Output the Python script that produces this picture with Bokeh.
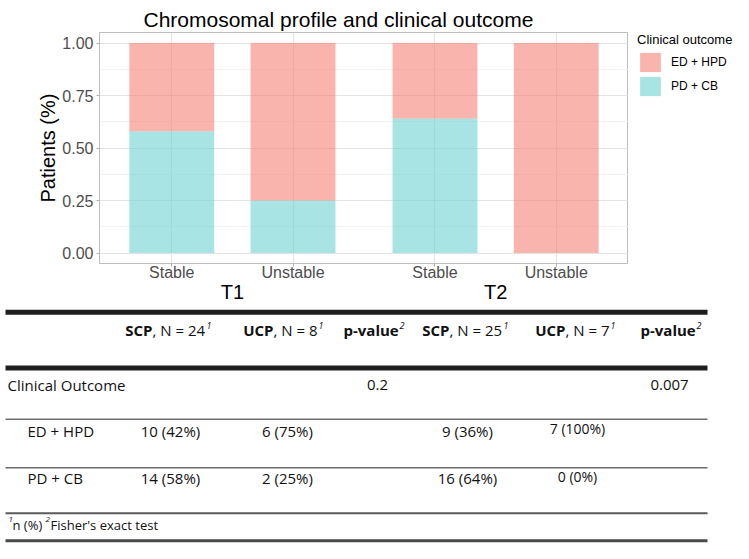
from bokeh.plotting import figure
from bokeh.models import (ColumnDataSource, FactorRange, FixedTicker, NumeralTickFormatter,
                          Legend, LegendItem, Range1d)
from bokeh.layouts import column, row
from bokeh.embed import file_html
from bokeh.resources import INLINE
from bokeh.core.properties import value

# ---------------- data ----------------
timepoints = ["T1", "T1", "T2", "T2"]
profiles = ["Stable", "Unstable", "Stable", "Unstable"]
share_pd_cb = [0.58, 0.25, 0.64, 0.0]
share_ed_hpd = [0.42, 0.75, 0.36, 1.0]
outcome_labels = ["ED + HPD", "PD + CB"]
outcome_colors = ["#F78278", "#6ED2D2"]
y_ticks = [0.0, 0.25, 0.5, 0.75, 1.0]

col_codes = ["SCP", "UCP", "SCP", "UCP"]
col_n = [24, 8, 25, 7]
n_ed_hpd = [10, 6, 9, 7]
pct_ed_hpd = [42, 75, 36, 100]
n_pd_cb = [14, 2, 16, 0]
pct_pd_cb = [58, 25, 64, 0]
p_values = ["0.2", "0.007"]
variable_label = "Clinical Outcome"

# ---------------- chart ----------------
CF = "Liberation Sans"
x_factors = list(zip(timepoints, profiles))
src = ColumnDataSource(dict(x=x_factors, pd=share_pd_cb, ed=share_ed_hpd))
xr = FactorRange(*x_factors, group_padding=0.171, range_padding=0.096,
                 range_padding_units="absolute")

p = figure(width=628, height=306, x_range=xr, y_range=Range1d(-0.05, 1.05),
           output_backend="svg", toolbar_location=None,
           min_border_left=99, min_border_right=0, min_border_top=32, min_border_bottom=43,
           title="Chromosomal profile and clinical outcome")
p.frame_align = False
p.title.align = "left"
p.title.offset = 44
p.title.standoff = 4
p.title.text_font = CF
p.title.text_font_size = "21px"
p.title.text_font_style = "normal"
p.title.text_color = "#000000"

rs = p.vbar_stack(["pd", "ed"], x="x", width=0.7, source=src,
                  fill_color=[outcome_colors[1], outcome_colors[0]], fill_alpha=0.6, line_color=None)

p.outline_line_color = "#bdbdbd"
p.outline_line_width = 1
p.background_fill_color = "white"
p.border_fill_color = "white"

p.xgrid.grid_line_color = "#e3e3e3"
p.ygrid.grid_line_color = "#e3e3e3"
p.ygrid.minor_grid_line_color = "#f2f2f2"

minor = [(a + b) / 2 for a, b in zip(y_ticks, y_ticks[1:])]
p.yaxis.ticker = FixedTicker(ticks=y_ticks, minor_ticks=minor)
p.yaxis.formatter = NumeralTickFormatter(format="0.00")
p.yaxis.axis_label = "Patients (%)"
p.yaxis.axis_label_text_font = CF
p.yaxis.axis_label_text_font_size = "20px"
p.yaxis.axis_label_text_font_style = "normal"
p.yaxis.axis_label_text_color = "#000000"
p.yaxis.axis_label_standoff = 0

for ax in (p.xaxis, p.yaxis):
    ax.axis_line_color = None
    ax.major_tick_line_color = "#b3b3b3"
    ax.major_tick_out = 3
    ax.major_tick_in = 0
    ax.minor_tick_line_color = None
    ax.major_label_text_font = CF
    ax.major_label_text_font_size = "16px"
    ax.major_label_text_color = "#4d4d4d"
p.yaxis.major_label_standoff = 2
p.xaxis.major_label_standoff = -3
p.xaxis.group_text_font = CF
p.xaxis.group_text_font_size = "20px"
p.xaxis.group_text_font_style = "normal"
p.xaxis.group_text_color = "#000000"
p.xaxis.separator_line_color = None

# ---------------- legend (own small panel to the right) ----------------
q = figure(width=105, height=306, x_range=Range1d(0, 1), y_range=Range1d(0, 1),
           output_backend="svg", toolbar_location=None,
           min_border_left=9, min_border_right=0, min_border_top=32, min_border_bottom=43,
           x_axis_location=None, y_axis_location=None)
q.frame_align = False
q.outline_line_color = None
q.grid.visible = False
q.background_fill_color = "white"
q.border_fill_color = "white"
# key renderers: zero-height bars placed outside the visible range (only their legend swatch shows)
key_src = ColumnDataSource(dict(x=[-5.0], top=[0.0]))
key_renderers = [q.vbar(x="x", top="top", width=0.7, source=key_src,
                        fill_color=c, fill_alpha=0.6, line_color=None)
                 for c in outcome_colors]
legend = Legend(items=[LegendItem(label=lab, renderers=[r])
                       for lab, r in zip(outcome_labels, key_renderers)],
                title="Clinical outcome", location="top_left", margin=0, padding=0,
                border_line_color=None, background_fill_alpha=0,
                title_text_font=CF, title_text_font_size="13px", title_text_font_style="normal",
                title_text_color="#000000", title_standoff=3,
                label_text_font=CF, label_text_font_size="12px", label_text_color="#000000",
                glyph_width=26, glyph_height=24, label_height=24, label_standoff=8, spacing=0)
q.add_layout(legend)

# ---------------- table ----------------
TF = value("Open Sans")
t = figure(width=733, height=237, x_range=Range1d(0, 733), y_range=Range1d(556, 306),
           output_backend="svg", toolbar_location=None,
           min_border_left=0, min_border_right=0, min_border_top=0, min_border_bottom=0,
           x_axis_location=None, y_axis_location=None)
t.frame_align = False
t.outline_line_color = None
t.grid.visible = False
t.background_fill_color = "white"
t.border_fill_color = "white"

LX0, LX1 = 5, 707
t.segment(x0=[LX0, LX0], x1=[LX1, LX1], y0=[312, 371], y1=[312, 371],
          line_color="#1e1e1e", line_width=5)
t.segment(x0=[LX0, LX0], x1=[LX1, LX1], y0=[425, 476], y1=[425, 476],
          line_color="#6e6e6e", line_width=1.5)
t.segment(x0=[LX0], x1=[LX1], y0=[524], y1=[524], line_color="#5a5a5a", line_width=2)
t.segment(x0=[LX0], x1=[LX1], y0=[553], y1=[553], line_color="#4a4a4a", line_width=3)

def txt(xs, ys, texts, size="15px", align="left", style="normal", color="#111111"):
    t.text(x=xs, y=ys, text=texts, text_font=TF, text_font_size=size,
           text_font_style=style, text_align=align, text_baseline="middle", text_color=color)

split_x = [152, 273, 449, 565]
sup1_x = [206, 318, 503, 610]
txt(split_x, [331] * 4, col_codes, align="right", style="bold")
txt(split_x, [331] * 4, [", N = %d" % n for n in col_n])
txt(sup1_x, [326] * 4, ["1"] * 4, size="9px", style="italic")
txt([343, 640], [331] * 2, ["p-value"] * 2, style="bold")
txt([399, 696], [326] * 2, ["2"] * 2, size="9px", style="italic")

txt([7], [389], [variable_label])
txt([377, 669], [389] * 2, p_values, align="center")
txt([27, 27], [437, 487], outcome_labels)
col_cx = [170, 287, 467]
txt(col_cx, [437] * 3, ["%d (%d%%)" % (a, b) for a, b in zip(n_ed_hpd[:3], pct_ed_hpd[:3])], align="center")
txt(col_cx, [487] * 3, ["%d (%d%%)" % (a, b) for a, b in zip(n_pd_cb[:3], pct_pd_cb[:3])], align="center")
txt([577, 577], [435, 485],
    ["%d (%d%%)" % (n_ed_hpd[3], pct_ed_hpd[3]), "%d (%d%%)" % (n_pd_cb[3], pct_pd_cb[3])],
    size="14px", align="center")

txt([8], [531], ["1"], size="8px", style="italic")
txt([12], [536], ["n (%)"], size="13px")
txt([45], [531], ["2"], size="8px", style="italic")
txt([50], [536], ["Fisher's exact test"], size="13px")

layout = column(row(p, q), t)
open("out.html", "w").write(file_html(layout, INLINE))
